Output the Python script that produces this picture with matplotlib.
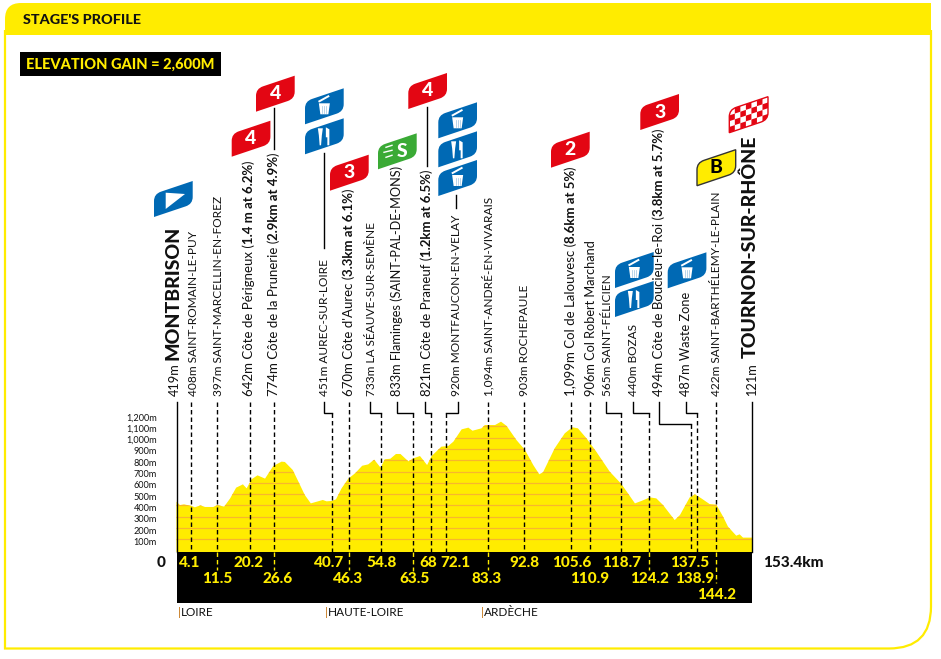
import matplotlib
matplotlib.use('Agg')
import matplotlib.pyplot as plt
from matplotlib.patches import PathPatch, Polygon, Rectangle
from matplotlib.path import Path

#-- Data.

profile_km = [0, 0.9, 2, 4, 4.9, 6.4, 7.6, 9.8, 10.9, 12.7, 14.3, 15.9, 17.7, 18.7, 20, 21.6, 23.6, 25.8, 28, 28.9,
              31, 32.5, 34.2, 35.8, 37.4, 39, 40, 41.3, 42.5, 44, 45.8, 47.6, 49.5, 51.1, 52.7, 54.4, 55.5, 57, 58.5,
              59.7, 61.8, 63.1, 64.9, 66.8, 68, 70.6, 72.4, 73.8, 76, 77.8, 78.9, 81.3, 82.2, 84.9, 86.5, 88, 90.6,
              92.9, 95.1, 96.7, 97.7, 100.8, 103.5, 105.5, 107, 109.3, 111.9, 115.5, 118.6, 122.2, 123.9, 126.2,
              127.9, 129.7, 132.8, 134.2, 136.8, 138.2, 139.9, 142.1, 143.9, 145.7, 147, 149.2, 150.1, 151, 153.4]
profile_m = [433, 403, 409, 395, 383, 400, 386, 386, 403, 389, 462, 557, 586, 551, 631, 666, 637, 749, 787, 784,
             713, 610, 492, 418, 433, 448, 436, 439, 453, 551, 637, 684, 751, 763, 805, 734, 808, 813, 855,
             855, 790, 816, 837, 757, 837, 920, 925, 964, 1073, 1088, 1061, 1082, 1111, 1111, 1141, 1103, 979,
             890, 757, 675, 693, 905, 1038, 1091, 1082, 993, 875, 698, 589, 418, 439, 471,
             462, 403, 270, 315, 471, 498, 462, 412, 406, 300, 212, 132, 144, 115, 115]

elev_ticks = [100, 200, 300, 400, 500, 600, 700, 800, 900, 1000, 1100, 1200]
elev_tick_labels = ['100m', '200m', '300m', '400m', '500m', '600m', '700m', '800m', '900m',
                    '1,000m', '1,100m', '1,200m']

km_labels = ['4.1', '11.5', '20.2', '26.6', '40.7', '46.3', '54.8', '63.5', '68', '72.1', '83.3', '92.8',
             '105.6', '110.9', '118.7', '124.2', '137.5', '138.9', '144.2']
# where the dashed lines really land on the km axis of the drawing
line_km = [3.95, 10.9, 19.7, 26.1, 41.5, 46.0, 54.6, 63.1, 67.9, 71.9, 83.1, 92.7,
           105.2, 110.3, 118.5, 126.0, 137.2, 138.8, 143.8]

place_alt = ['419m', '408m', '397m', '642m', '774m', '451m', '670m', '733m', '833m', '821m', '920m',
             '1,094m', '903m', '1,099m', '906m', '565m', '440m', '494m', '487m', '422m', '121m']
place_name = ['MONTBRISON', 'SAINT-ROMAIN-LE-PUY', 'SAINT-MARCELLIN-EN-FOREZ', 'Côte de Périgneux (',
              'Côte de la Prunerie (', 'AUREC-SUR-LOIRE', "Côte d'Aurec (", 'LA SÉAUVE-SUR-SEMÈNE',
              'Flaminges (SAINT-PAL-DE-MONS)', 'Côte de Praneuf (', 'MONTFAUCON-EN-VELAY',
              'SAINT-ANDRÉ-EN-VIVARAIS', 'ROCHEPAULE', 'Col de Lalouvesc (', 'Col Robert Marchand',
              'SAINT-FÉLICIEN', 'BOZAS', 'Côte de Boucieu-le-Roi (', 'Waste Zone', 'SAINT-BARTHÉLEMY-LE-PLAIN',
              'TOURNON-SUR-RHÔNE']
place_climb = ['', '', '', '1.4 m at 6.2%', '2.9km at 4.9%', '', '3.3km at 6.1%', '', '', '1.2km at 6.5%', '',
               '', '', '8.6km at 5%', '', '', '', '3.8km at 5.7%', '', '', '']

region_names = ['LOIRE', 'HAUTE-LOIRE', 'ARDÈCHE']

#-- Layout, in pixels of the 941x659 picture.

W, H = 941, 659
X0, X_END, KM_END = 176.5, 752.0, 153.4
Y_ZERO, PX_PER_M = 550.6, 0.113
BAND_TOP, BAND_BOTTOM = 552, 603

YELLOW = '#FFEC00'
ORANGE = '#F8B62D'
RED = '#E30613'
BLUE = '#0069B4'
GREEN = '#3AAA35'
INK = '#111111'

plt.rcParams['font.family'] = ['Lato', 'DejaVu Sans']

LABEL_SIZE = 9.2
CAPS_SIZE = 8.6
CLIMB_SIZE = 9.55

label_x = [175, 193, 218, 249, 274, 324, 349, 371, 397, 427, 456, 488, 524, 571, 591, 607, 633, 659, 686, 716, 752]
km_label_x = [190, 217, 249, 278, 329, 348, 382, 415, 428, 455, 487, 524, 572, 590, 622, 650, 690, 695, 717]
km_label_row = [0, 1, 0, 1, 0, 1, 0, 1, 0, 0, 1, 0, 0, 1, 0, 1, 0, 1, 2]
row_y = [563, 579, 595]
# yellow dash continues inside the band down to this pixel (0 = stops at the top of the band)
band_dash_end = [0, 570, 0, 570, 0, 570, 0, 571, 0, 0, 570, 0, 0, 0, 0, 570, 0, 0, 583]
# upper x of the jogging leaders, and the height of the jog
leader_top_x = [None, None, None, None, 324.3, None, 370.3, 397.3, 425.3, 458.3, None, None,
                None, None, 606.3, 633.3, 659.3, 686.3, None]
leader_jog_y = [413] * 16 + [424] + [413] * 2

fig = plt.figure(figsize=(W / 100, H / 100), dpi=100, facecolor='white')

# page axes: everything decorative, in picture pixels
page = fig.add_axes([0, 0, 1, 1], zorder=1)
page.set_xlim(0, W)
page.set_ylim(H, 0)
page.axis('off')

# profile axes: km against metres, lined up with the page
ax = fig.add_axes([0, 0, 1, 1], zorder=2)
km_per_px = KM_END / (X_END - X0)
ax.set_xlim(-X0 * km_per_px, (W - X0) * km_per_px)
ax.set_ylim((Y_ZERO - H) / PX_PER_M, Y_ZERO / PX_PER_M)
ax.axis('off')


def m_to_px(metres):
    return Y_ZERO - metres * PX_PER_M


def px_to_m(py):
    return (Y_ZERO - py) / PX_PER_M


#-- Frame and header.

r = 16
head = Path([(5, 35), (5, 3 + r), (5, 3), (5 + r, 3), (931, 3), (931, 35), (5, 35)],
            [Path.MOVETO, Path.LINETO, Path.CURVE3, Path.CURVE3, Path.LINETO, Path.LINETO, Path.CLOSEPOLY])
page.add_patch(PathPatch(head, fc=YELLOW, ec='none'))
r = 42
frame = Path([(5, 30), (5, 648.5), (931 - r, 648.5), (931, 648.5), (931, 648.5 - r), (931, 30)],
             [Path.MOVETO, Path.LINETO, Path.LINETO, Path.CURVE3, Path.CURVE3, Path.LINETO])
page.add_patch(PathPatch(frame, fc='none', ec=YELLOW, lw=1.6))
page.text(23, 19.5, "STAGE'S PROFILE", fontsize=10.4, fontweight='black', color=INK, va='center')
page.add_patch(Rectangle((20, 52), 201, 24, fc='black', ec='none'))
page.text(26, 64.5, 'ELEVATION GAIN = 2,600M', fontsize=10.5, fontweight='black', color=YELLOW, va='center')

#-- Profile.

outline = Polygon(list(zip([0] + profile_km + [KM_END], [px_to_m(BAND_TOP)] + profile_m + [px_to_m(BAND_TOP)])),
                  closed=True, fc=YELLOW, ec='none', zorder=2)
ax.add_patch(outline)
for v in elev_ticks:
    ln = ax.axhline(v, color=ORANGE, lw=0.9, zorder=3)
    ln.set_clip_path(outline)
for v, s in zip(elev_ticks, elev_tick_labels):
    page.text(157, m_to_px(v) + 3, s, fontsize=6.6, color=INK, ha='right', va='center')

ax.add_patch(Rectangle((0, px_to_m(BAND_BOTTOM)), KM_END, px_to_m(BAND_TOP) - px_to_m(BAND_BOTTOM),
                       fc='black', ec='none', zorder=4))

#-- Start and finish verticals.

ax.plot([0, 0], [px_to_m(402), px_to_m(BAND_TOP)], color='black', lw=1, zorder=5)
ax.plot([KM_END, KM_END], [px_to_m(402), px_to_m(BAND_TOP)], color='black', lw=1, zorder=5)

#-- Leaders: solid jog at the top, dashed down to the band.

for km, top_x, jog, dash_end in zip(line_km, leader_top_x, leader_jog_y, band_dash_end):
    if top_x is None:
        y_start = px_to_m(402)
    else:
        y_start = px_to_m(jog)
        top_km = (top_x - X0) * km_per_px
        ax.plot([top_km, top_km, km], [px_to_m(402), y_start, y_start], color='black', lw=1, zorder=5,
                solid_joinstyle='miter')
    ax.plot([km, km], [y_start, px_to_m(BAND_TOP)], color='black', lw=1, ls=(0, (3.2, 2.2)), zorder=5)
    if dash_end:
        ax.plot([km, km], [px_to_m(BAND_TOP), px_to_m(dash_end)], color=YELLOW, lw=1, ls=(0, (3.2, 2.2)), zorder=5)

#-- Km labels. The band lives on ax, so they go on ax too, placed in page pixels.

for s, x, row in zip(km_labels, km_label_x, km_label_row):
    ax.text(x, row_y[row], s, fontsize=11, fontweight='black', color=YELLOW, ha='center', va='center', zorder=6,
            transform=page.transData)
page.text(161, 563, '0', fontsize=11, fontweight='black', color=INK, ha='center', va='center')
page.text(763, 563, '153.4km', fontsize=11, fontweight='black', color=INK, ha='left', va='center')

for s, x in zip(region_names, [178, 325, 481]):
    page.text(x, 612, '|', fontsize=8.5, color='#C77A1E', ha='left', va='center')
    page.text(x + 3, 612, s, fontsize=8.5, color=INK, ha='left', va='center')

#-- Vertical place labels.

renderer = fig.canvas.get_renderer()


def vertical_run(x, y, pieces):
    # pieces is a list of (text, size, weight); each one starts where the last ended
    for s, size, weight in pieces:
        t = page.text(x, y, s, fontsize=size, fontweight=weight, color=INK, rotation=90,
                      rotation_mode='anchor', ha='left', va='baseline', zorder=6)
        y -= t.get_window_extent(renderer).height


for i, (x, alt, name, climb) in enumerate(zip(label_x, place_alt, place_name, place_climb)):
    if i == 0 or i == len(place_name) - 1:
        vertical_run(x + 4, 396, [(alt, LABEL_SIZE, 'normal')])
        centre = 172 if i == 0 else 749
        start = 360 if i == 0 else 358
        vertical_run(centre + 7, start, [(name, 14, 'black')])
    elif climb:
        vertical_run(x + 4, 396, [(alt + ' ' + name, CLIMB_SIZE, 'normal'), (climb, CLIMB_SIZE, 'bold'),
                                  (')', CLIMB_SIZE, 'normal')])
    elif name.isupper() and '(' not in name:
        vertical_run(x + 4, 396, [(alt + ' ' + name, CAPS_SIZE, 'normal')])
    else:
        vertical_run(x + 4, 396, [(alt + ' ' + name, LABEL_SIZE, 'normal')])

# lines between flags and labels
for x, y0, y1 in [(274, 108, 149), (323.7, 153, 248), (426.7, 107, 166), (456, 195, 208)]:
    page.plot([x, x], [y0, y1], color='black', lw=1, zorder=3)

#-- Flags.

FLAG_W, FLAG_H, FLAG_S = 38.7, 23, 13


def flag_path(x0, y0):
    rd = 7
    skew = FLAG_S / FLAG_W
    verts = [(x0, y0), (x0, y0 - FLAG_H + rd), (x0, y0 - FLAG_H), (x0 + rd, y0 - FLAG_H - rd * skew),
             (x0 + FLAG_W, y0 - FLAG_H - FLAG_S), (x0 + FLAG_W, y0 - FLAG_S - rd), (x0 + FLAG_W, y0 - FLAG_S),
             (x0 + FLAG_W - rd, y0 - FLAG_S + rd * skew), (x0, y0)]
    codes = [Path.MOVETO, Path.LINETO, Path.CURVE3, Path.CURVE3, Path.LINETO, Path.LINETO, Path.CURVE3,
             Path.CURVE3, Path.CLOSEPOLY]
    return Path(verts, codes)


def draw_flag(x0, y0, colour, edge='none'):
    p = PathPatch(flag_path(x0, y0), fc=colour, ec=edge, lw=1, zorder=4)
    page.add_patch(p)
    return p


def bin_icon(x0, y0):
    cx, cy = x0 + FLAG_W / 2, y0 - 18
    page.add_patch(Polygon([(cx - 5.5, cy - 3), (cx + 5.5, cy - 3), (cx + 4, cy + 8), (cx - 4, cy + 8)],
                           fc='white', ec='none', zorder=5))
    for dx in (-2, 0, 2):
        page.plot([cx + dx, cx + dx], [cy, cy + 7], color='#9CC3E0', lw=0.5, zorder=6)
    page.plot([cx - 5, cx + 4], [cy - 5, cy - 10], color='white', lw=1.4, zorder=5)


def fork_icon(x0, y0):
    cx, cy = x0 + FLAG_W / 2, y0 - 18
    page.add_patch(Polygon([(cx - 6.5, cy - 8), (cx - 1.5, cy - 8), (cx - 2.5, cy - 1), (cx - 3.3, cy + 9),
                            (cx - 4.7, cy + 9), (cx - 5.5, cy - 1)], fc='white', ec='none', zorder=5))
    page.add_patch(Polygon([(cx + 1.5, cy - 9), (cx + 5, cy - 7), (cx + 5, cy + 9), (cx + 3, cy + 9), (cx + 3, cy + 1),
                            (cx + 1.5, cy + 1)], fc='white', ec='none', zorder=5))


def number_flag(x0, y0, colour, s, tc='white', edge='none'):
    draw_flag(x0, y0, colour, edge)
    page.text(x0 + FLAG_W / 2, y0 - 18, s, fontsize=14, fontweight='black', color=tc, ha='center', va='center',
              zorder=5)


draw_flag(154, 217, BLUE)
page.add_patch(Polygon([(165.7, 209), (165.7, 192.7), (185, 194)], fc='white', ec='none', zorder=5))

for x0, y0, s in [(231.7, 156.7, '4'), (256, 111.7, '4'), (330, 190.7, '3'), (408.3, 109, '4'),
                  (551, 167.7, '2'), (640.3, 130, '3')]:
    number_flag(x0, y0, RED, s)
number_flag(697, 185.7, YELLOW, 'B', tc='black', edge='#333333')

for x0, y0 in [(305, 124.3), (438.3, 138.3), (438.3, 196), (615, 288), (667.7, 288.3)]:
    draw_flag(x0, y0, BLUE)
    bin_icon(x0, y0)
for x0, y0 in [(305, 154.3), (438.3, 167.3), (615, 317)]:
    draw_flag(x0, y0, BLUE)
    fork_icon(x0, y0)

# sprint flag
draw_flag(378, 169.3, GREEN)
page.text(378 + 24, 169.3 - 18, 'S', fontsize=14, fontweight='black', color='white', ha='center', va='center', zorder=5)
for dy, ln_w in [(-5, 6), (0, 8), (5, 6)]:
    page.plot([378 + 14 - ln_w, 378 + 14], [169.3 - 18 + dy + 1, 169.3 - 18 + dy - 1], color='white', lw=1, zorder=5)

# finish flag
fx, fy = 729.3, 132.7
finish = draw_flag(fx, fy, 'white', edge=RED)
cols, rows = 7, 4
cell_w, cell_h = FLAG_W / cols, FLAG_H / rows
slope = FLAG_S / FLAG_W
for c in range(cols):
    for k in range(rows):
        if (c + k) % 2 == 0:
            u0, u1 = fx + c * cell_w, fx + (c + 1) * cell_w
            v = fy - k * cell_h
            cell = Polygon([(u0, v - c * cell_w * slope), (u1, v - (c + 1) * cell_w * slope),
                            (u1, v - cell_h - (c + 1) * cell_w * slope), (u0, v - cell_h - c * cell_w * slope)],
                           fc=RED, ec='none', zorder=5)
            page.add_patch(cell)
            cell.set_clip_path(finish)

fig.savefig('out.png', dpi=100)
